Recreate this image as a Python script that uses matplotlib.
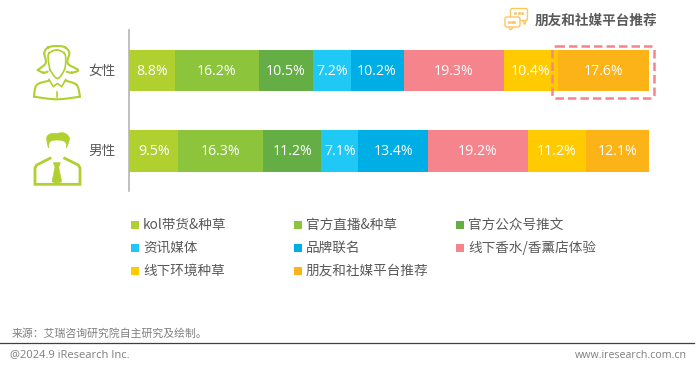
import matplotlib
matplotlib.use('Agg')
import matplotlib.pyplot as plt
from matplotlib.patches import FancyBboxPatch, Rectangle, Polygon
import numpy as np

plt.rcParams['font.family'] = ['Noto Sans CJK SC', 'DejaVu Sans']

genders = ['女性', '男性']
channels = ['kol带货&种草', '官方直播&种草', '官方公众号推文', '资讯媒体', '品牌联名',
            '线下香水/香薰店体验', '线下环境种草', '朋友和社媒平台推荐']
female = [8.8, 16.2, 10.5, 7.2, 10.2, 19.3, 10.4, 17.6]
male = [9.5, 16.3, 11.2, 7.1, 13.4, 19.2, 11.2, 12.1]
colors = ['#B0D02F', '#8CC43C', '#65AE45', '#1FC8F5', '#00AEE6', '#F6848C', '#FFCB00', '#FBB317']

W, H = 700, 368
fig = plt.figure(figsize=(7, 3.68), dpi=100)

# overlay in pixel coords for icons and text
bg = fig.add_axes([0, 0, 1, 1])
bg.set_xlim(0, W)
bg.set_ylim(H, 0)
bg.axis('off')


def smooth(pts, n=12):
    # catmull-rom through the points, only used for the icons
    p = np.array(pts, dtype=float)
    p = np.vstack([p[0], p, p[-1]])
    out = []
    for i in range(1, len(p) - 2):
        for t in np.linspace(0, 1, n):
            out.append(0.5 * (2 * p[i] + (p[i + 1] - p[i - 1]) * t
                              + (2 * p[i - 1] - 5 * p[i] + 4 * p[i + 1] - p[i + 2]) * t ** 2
                              + (3 * p[i] - p[i - 1] - 3 * p[i + 1] + p[i + 2]) * t ** 3))
    return np.array(out)


def icon_line(pts, lw=1.5, color='#B0D02F'):
    c = smooth(pts)
    bg.plot(c[:, 0], c[:, 1], color=color, lw=lw, solid_capstyle='round')


ax = fig.add_axes([129 / W, 1 - 191 / H, 520 / W, 161 / H])
ax.patch.set_alpha(0)
rows = [female, male]
for r, vals in enumerate(rows):
    vals = np.array(vals)
    shares = vals / vals.sum() * 100
    left = 0
    for i, s in enumerate(shares):
        ax.barh(r, s, left=left, height=0.515, color=colors[i], linewidth=0)
        ax.text(left + s / 2, r + 0.012, '%.1f%%' % vals[i], color='white', fontsize=10.2,
                ha='center', va='center', family=['Open Sans', 'DejaVu Sans'])
        left += s
ax.set_xlim(0, 100)
ax.set_ylim(1.497, -0.503)
ax.set_xticks([])
ax.set_yticks([])
for s in ['top', 'right', 'bottom']:
    ax.spines[s].set_visible(False)
ax.spines['left'].set_color('#B5B5B5')
ax.spines['left'].set_linewidth(1.2)

# gender labels
for g, y in zip(genders, [70.5, 151]):
    bg.text(88, y, g, fontsize=9.8, color='#595959', va='center', ha='left')

# woman icon
icon_line([(37.7, 70), (45.7, 63), (44.3, 53), (48, 47.5), (56.7, 46), (65, 47.3), (69.3, 53), (67.7, 63.3), (78, 70),
           (71.7, 72.7), (66.7, 71.7)])
icon_line([(37.7, 70), (43.3, 72.7), (47.7, 71.7)])
icon_line([(50, 70), (48.3, 60), (49, 53.3), (56.7, 50), (64.3, 53.3), (65.7, 60), (64.3, 70), (57.3, 78.5), (50, 70)], lw=1.2)
icon_line([(49, 80.7), (36.7, 85), (34, 96.7)])
icon_line([(34, 96.7), (56.7, 99.3), (80, 96.7)])
icon_line([(80, 96.7), (76.7, 85), (65.7, 80.7)])
bg.plot([49, 53.3, 57.3, 61.7, 65.7], [79.5, 86.7, 83.3, 86.7, 79.5], color='#B0D02F', lw=1.2)
bg.plot([57.3, 57.3], [92, 97], color='#B0D02F', lw=1.2)

# man icon
hair = np.vstack([smooth([(48.3, 147.7), (46.7, 138), (50, 134), (56, 133.5), (64, 133), (69.3, 138), (66.7, 147.7)]),
                  smooth([(66.7, 147.7), (65, 141.7), (56.7, 140), (50, 141.7), (48.3, 147.7)])])
bg.add_patch(Polygon(hair, fc='#B0D02F', ec='#B0D02F', lw=0.5))
bg.plot([50, 36.7, 35, 35, 80, 80, 78.3, 64.7], [158.3, 165, 168, 184.3, 184.3, 168, 165, 158.3],
        color='#B0D02F', lw=2, solid_joinstyle='miter')
bg.add_patch(Polygon([(53.3, 162.7), (60.5, 162.7), (58.7, 167), (61.7, 181.7), (57, 183.5), (52, 181.7), (55, 167)],
                     fc='#B0D02F', ec='#B0D02F', lw=0.4))

# legend
xs = [131, 294, 456]
ys = [224.5, 248, 271]
for i, name in enumerate(channels):
    x = xs[i % 3]
    y = ys[i // 3]
    bg.add_patch(Rectangle((x, y - 4), 8, 8, fc=colors[i], ec='none'))
    bg.text(x + 12, y, name, fontsize=9.8, color='#595959', va='center', ha='left')

# callout
bg.add_patch(FancyBboxPatch((552.5, 46.5), 102, 52, boxstyle='round,pad=0,rounding_size=4', fc='none', ec='#F6848C',
                            lw=1.8, ls=(0, (3.4, 1.6)), zorder=5))
bg.set_zorder(ax.get_zorder() + 1)
bg.patch.set_alpha(0)
bg.text(535, 21, channels[7], fontsize=9.8, fontweight='bold', color='#595959', va='center', ha='left')

# bubbles
oc = '#FBC760'
bg.add_patch(Polygon([(522, 20), (525, 24.5), (526, 20)], fc='white', ec=oc, lw=1))
bg.add_patch(FancyBboxPatch((510.5, 8.5), 17, 12, boxstyle='round,pad=0,rounding_size=2', fc='white', ec=oc, lw=1))
bg.add_patch(Polygon([(508, 26), (510.5, 30), (514, 26)], fc='white', ec=oc, lw=1))
bg.add_patch(FancyBboxPatch((505, 17), 15, 10, boxstyle='round,pad=0,rounding_size=2', fc='white', ec=oc, lw=1))
bg.plot([515, 518.5, 522], [13, 13, 13], ls='none', marker='s', ms=1, color=oc)
bg.plot([509, 511.5, 514], [22, 22, 22], ls='none', marker='s', ms=1, color=oc)

# footer
bg.text(12, 333.5, '来源：艾瑞咨询研究院自主研究及绘制。', fontsize=7.8, color='#7F7F7F', va='center', ha='left')
bg.plot([0, 694], [343, 343], color='#404040', lw=0.9)
bg.text(10, 355, '@2024.9 iResearch Inc.', fontsize=8, color='#7F7F7F', va='center', ha='left',
        family=['Open Sans', 'DejaVu Sans'])
bg.text(687, 355, 'www.iresearch.com.cn', fontsize=7.7, color='#7F7F7F', va='center', ha='right',
        family=['Open Sans', 'DejaVu Sans'])

fig.savefig('out.png', dpi=100)
